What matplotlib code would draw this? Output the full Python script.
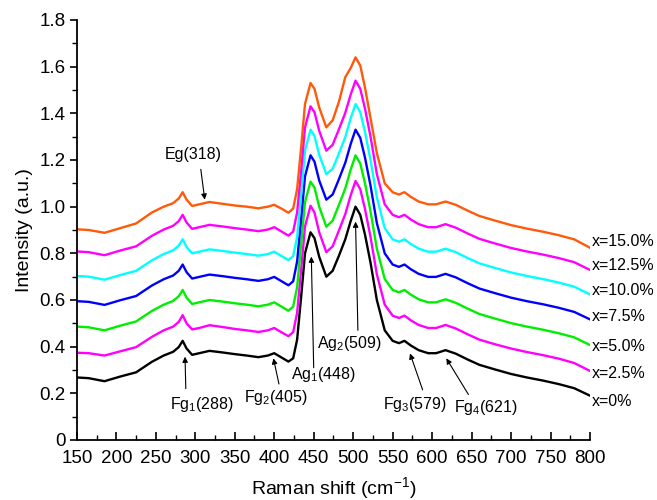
import matplotlib
matplotlib.use("Agg")
import matplotlib.pyplot as plt
from matplotlib.ticker import MultipleLocator

plt.rcParams['font.family'] = ['Liberation Sans', 'DejaVu Sans']
plt.rcParams['mathtext.fontset'] = 'custom'
plt.rcParams['mathtext.rm'] = 'Liberation Sans'
plt.rcParams['mathtext.it'] = 'Liberation Sans:italic'

# ---------------- data ----------------
raman_shift = [150, 165, 185, 205, 225, 245, 260, 272, 279, 284,
               289, 296, 305, 318, 335, 350, 365, 380, 392, 400,
               410, 418, 424, 429, 434, 439, 446, 451, 457, 466,
               474, 482, 490, 497, 503, 509, 515, 522, 530, 540,
               550, 558, 565, 573, 583, 595, 605, 617, 630, 645,
               660, 680, 700, 720, 740, 760, 780, 800]

x_0 = [0.268, 0.265, 0.252, 0.272, 0.290, 0.335, 0.362, 0.378, 0.398, 0.425,
       0.392, 0.365, 0.372, 0.382, 0.375, 0.368, 0.362, 0.355, 0.362, 0.372,
       0.352, 0.336, 0.350, 0.430, 0.610, 0.800, 0.890, 0.865, 0.785, 0.700,
       0.725, 0.790, 0.860, 0.940, 1.000, 0.965, 0.880, 0.760, 0.600, 0.470,
       0.425, 0.415, 0.425, 0.405, 0.385, 0.372, 0.372, 0.385, 0.370, 0.345,
       0.322, 0.302, 0.283, 0.268, 0.255, 0.240, 0.222, 0.190]

x_2_5 = [0.374, 0.372, 0.362, 0.380, 0.398, 0.442, 0.470, 0.486, 0.506, 0.535,
         0.500, 0.474, 0.480, 0.492, 0.484, 0.476, 0.470, 0.463, 0.470, 0.480,
         0.460, 0.445, 0.462, 0.545, 0.725, 0.915, 1.004, 0.975, 0.890, 0.805,
         0.830, 0.898, 0.968, 1.050, 1.110, 1.075, 0.990, 0.870, 0.710, 0.580,
         0.533, 0.523, 0.533, 0.513, 0.493, 0.480, 0.480, 0.493, 0.478, 0.453,
         0.430, 0.410, 0.392, 0.377, 0.364, 0.349, 0.330, 0.296]

x_5_0 = [0.486, 0.483, 0.470, 0.490, 0.508, 0.553, 0.580, 0.596, 0.616, 0.643,
         0.610, 0.583, 0.590, 0.600, 0.593, 0.586, 0.580, 0.573, 0.580, 0.590,
         0.570, 0.554, 0.572, 0.655, 0.835, 1.020, 1.107, 1.082, 1.000, 0.914,
         0.940, 1.008, 1.078, 1.160, 1.220, 1.185, 1.100, 0.980, 0.820, 0.690,
         0.643, 0.633, 0.643, 0.623, 0.603, 0.590, 0.590, 0.603, 0.588, 0.563,
         0.540, 0.520, 0.501, 0.486, 0.473, 0.458, 0.440, 0.407]

x_7_5 = [0.595, 0.592, 0.579, 0.599, 0.617, 0.662, 0.689, 0.705, 0.725, 0.752,
         0.719, 0.692, 0.699, 0.709, 0.702, 0.695, 0.689, 0.682, 0.689, 0.699,
         0.679, 0.663, 0.680, 0.765, 0.945, 1.130, 1.220, 1.193, 1.112, 1.030,
         1.052, 1.118, 1.188, 1.270, 1.330, 1.295, 1.210, 1.090, 0.930, 0.800,
         0.752, 0.742, 0.752, 0.732, 0.712, 0.699, 0.699, 0.712, 0.697, 0.672,
         0.649, 0.629, 0.610, 0.595, 0.582, 0.567, 0.549, 0.517]

x_10_0 = [0.703, 0.700, 0.687, 0.707, 0.725, 0.770, 0.797, 0.813, 0.833, 0.860,
          0.827, 0.800, 0.807, 0.817, 0.810, 0.803, 0.797, 0.790, 0.797, 0.807,
          0.787, 0.771, 0.788, 0.870, 1.050, 1.240, 1.330, 1.303, 1.222, 1.140,
          1.162, 1.228, 1.298, 1.380, 1.440, 1.405, 1.320, 1.200, 1.040, 0.908,
          0.860, 0.850, 0.860, 0.840, 0.820, 0.807, 0.807, 0.820, 0.805, 0.780,
          0.757, 0.737, 0.718, 0.703, 0.690, 0.675, 0.657, 0.624]

x_12_5 = [0.808, 0.805, 0.792, 0.812, 0.830, 0.875, 0.902, 0.918, 0.938, 0.965,
          0.932, 0.905, 0.912, 0.922, 0.915, 0.908, 0.902, 0.895, 0.902, 0.912,
          0.892, 0.876, 0.893, 0.975, 1.150, 1.340, 1.430, 1.405, 1.325, 1.240,
          1.265, 1.332, 1.402, 1.482, 1.540, 1.505, 1.420, 1.300, 1.140, 1.010,
          0.965, 0.955, 0.965, 0.945, 0.925, 0.912, 0.912, 0.925, 0.910, 0.885,
          0.862, 0.842, 0.823, 0.808, 0.795, 0.780, 0.762, 0.729]

x_15_0 = [0.903, 0.900, 0.888, 0.908, 0.928, 0.975, 1.000, 1.015, 1.035, 1.062,
          1.030, 1.003, 1.010, 1.020, 1.012, 1.005, 1.000, 0.993, 1.000, 1.008,
          0.990, 0.974, 0.992, 1.075, 1.250, 1.440, 1.530, 1.505, 1.425, 1.340,
          1.370, 1.450, 1.555, 1.595, 1.640, 1.605, 1.510, 1.380, 1.230, 1.100,
          1.062, 1.052, 1.062, 1.042, 1.022, 1.010, 1.010, 1.022, 1.008, 0.983,
          0.960, 0.940, 0.921, 0.906, 0.893, 0.878, 0.860, 0.824]

series_labels = ['x=0%', 'x=2.5%', 'x=5.0%', 'x=7.5%', 'x=10.0%', 'x=12.5%', 'x=15.0%']
series_values = [x_0, x_2_5, x_5_0, x_7_5, x_10_0, x_12_5, x_15_0]
series_colors = ['#000000', '#ff00ff', '#00ee00', '#0000ff', '#00ffff', '#ff00ff', '#ff5a0a']
label_y = [0.164, 0.286, 0.400, 0.529, 0.639, 0.746, 0.850]

x_ticks = [150, 200, 250, 300, 350, 400, 450, 500, 550, 600, 650, 700, 750, 800]
y_ticks = [0, 0.2, 0.4, 0.6, 0.8, 1.0, 1.2, 1.4, 1.6, 1.8]
y_ticklabels = ['0', '0.2', '0.4', '0.6', '0.8', '1.0', '1.2', '1.4', '1.6', '1.8']

# peak annotations: text, text position, arrow tail, arrow head
ann_texts = ['Eg(318)', 'Fg$_1$(288)', 'Fg$_2$(405)', 'Ag$_1$(448)', 'Ag$_2$(509)',
             'Fg$_3$(579)', 'Fg$_4$(621)']
ann_text_xy = [(297, 1.222), (308, 0.150), (402, 0.182), (462, 0.281), (495, 0.414),
               (578, 0.150), (668, 0.140)]
ann_tail_xy = [(307, 1.160), (288, 0.220), (406, 0.240), (450, 0.310), (506, 0.470),
               (588, 0.215), (646, 0.195)]
ann_head_xy = [(312, 1.030), (287, 0.357), (399, 0.350), (447, 0.786), (503, 0.936),
               (572, 0.371), (618, 0.350)]

# ---------------- plot ----------------
fig = plt.figure(figsize=(6.57, 5.0), dpi=100)
ax = fig.add_axes([0.117, 0.12, 0.781, 0.84])

for vals, col in zip(series_values, series_colors):
    ax.plot(raman_shift, vals, color=col, lw=1.7, solid_joinstyle='round')

for lab, ly in zip(series_labels, label_y):
    ax.text(802, ly, lab, fontsize=11.5, ha='left', va='center', clip_on=False)

for t, txy, tail, head in zip(ann_texts, ann_text_xy, ann_tail_xy, ann_head_xy):
    ax.text(txy[0], txy[1], t, fontsize=11.5, ha='center', va='center')
    ax.annotate('', xy=head, xytext=tail,
                arrowprops=dict(arrowstyle='-|>', color='black', lw=0.8,
                                mutation_scale=8, shrinkA=0, shrinkB=0))

ax.set_xlim(150, 800)
ax.set_ylim(0, 1.8)
ax.set_xticks(x_ticks)
ax.set_xticklabels([str(v) for v in x_ticks])
ax.set_yticks(y_ticks)
ax.set_yticklabels(y_ticklabels)
ax.xaxis.set_minor_locator(MultipleLocator(25))
ax.yaxis.set_minor_locator(MultipleLocator(0.1))
ax.tick_params(axis='x', which='major', direction='in', length=6, width=1.2, labelsize=13.5, pad=7)
ax.tick_params(axis='x', which='minor', direction='in', length=3.5, width=1.0)
ax.tick_params(axis='y', which='major', direction='out', length=5, width=1.2, labelsize=13.5, pad=3)
ax.tick_params(axis='y', which='minor', direction='out', length=3.5, width=1.0)

for s in ['top', 'right']:
    ax.spines[s].set_visible(False)
for s in ['left', 'bottom']:
    ax.spines[s].set_linewidth(1.3)

ax.set_xlabel('Raman shift (cm$^{-1}$)', fontsize=14, labelpad=6)
ax.set_ylabel('Intensity (a.u.)', fontsize=14, labelpad=5)

fig.savefig('out.png', dpi=100)
